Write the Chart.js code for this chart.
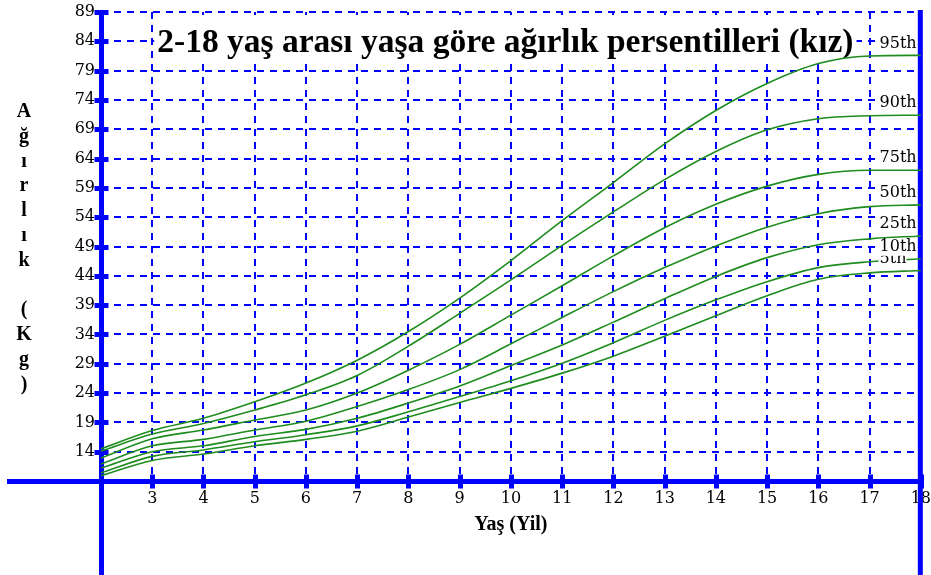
<!DOCTYPE html>
<html>
<head>
<meta charset="utf-8">
<title>Ağırlık persentilleri</title>
<script src="https://cdn.jsdelivr.net/npm/chart.js@4.4.0/dist/chart.umd.min.js"></script>
<style>
    html, body { margin: 0; padding: 0; background: #fff; }
</style>
</head>
<body>
<canvas id="grafik" width="931" height="575"></canvas>
<script>
// Yaş (yıl)
const yaslar = [2, 3, 4, 5, 6, 7, 8, 9, 10, 11, 12, 13, 14, 15, 16, 17, 18];

// Persentil değerleri (kg)
const p95 = [14.5, 17.6, 19.7, 22.5, 25.7, 29.6, 34.5, 40.2, 46.6, 53.4, 59.9, 66.5, 72.2, 76.8, 80.2, 81.5, 81.6];
const p90 = [14.1, 17.0, 18.8, 21.1, 23.7, 27.0, 32.0, 37.6, 43.3, 49.2, 54.9, 60.4, 65.2, 68.9, 70.8, 71.3, 71.4];
const p75 = [12.9, 16.2, 17.7, 19.4, 21.1, 24.0, 27.9, 32.3, 37.3, 42.3, 47.4, 52.2, 56.2, 59.3, 61.3, 62.0, 62.0];
const p50 = [11.9, 15.0, 16.1, 17.7, 19.2, 21.7, 24.6, 28.0, 32.4, 36.9, 41.3, 45.4, 49.1, 52.3, 54.6, 55.8, 56.1];
const p25 = [11.2, 14.0, 15.0, 16.6, 17.8, 19.7, 22.3, 25.2, 28.7, 32.2, 36.1, 40.1, 43.9, 47.1, 49.3, 50.3, 50.8];
const p10 = [10.4, 13.2, 14.3, 15.7, 16.9, 18.4, 20.8, 23.4, 26.1, 29.1, 32.6, 36.4, 39.9, 43.0, 45.4, 46.4, 46.9];
const p5  = [9.9, 12.5, 13.6, 15.0, 16.1, 17.5, 19.9, 22.4, 24.8, 27.4, 30.3, 33.7, 37.2, 40.6, 43.4, 44.5, 44.9];

const seriler = [p5, p10, p25, p50, p75, p90, p95];
const etiketler = ['5th', '10th', '25th', '50th', '75th', '90th', '95th'];

// Eksen aralıkları
const yMin = 9, yMax = 89, yAdim = 5;
const xMin = 2, xMax = 18;

const baslik = '2-18 yaş arası yaşa göre ağırlık persentilleri (kız)';
const yBaslik = 'Ağırlık (Kg)';
const xBaslik = 'Yaş (Yil)';

const MAVI = '#0000ff';
const YESIL = '#1e8c1e';

// Eksenler, başlık, etiketler
const ekPlugin = {
    id: 'ekPlugin',
    beforeDatasetsDraw(chart) {
        const { ctx, chartArea, scales: { x, y } } = chart;
        const x0 = x.getPixelForValue(xMin) + 0.5;
        const x1 = x.getPixelForValue(xMax) - 0.5;
        const y0 = y.getPixelForValue(yMin) + 0.5;
        ctx.save();

        // başlık (beyaz kutu üstünde)
        ctx.font = 'bold 33.5px "Liberation Serif", "Times New Roman", serif';
        const bx = x.getPixelForValue(3) + 5;
        const w = ctx.measureText(baslik).width;
        ctx.fillStyle = '#fff';
        ctx.fillRect(bx - 3, chartArea.top + 3, w + 6, 44);
        ctx.fillStyle = '#000';
        ctx.textAlign = 'left';
        ctx.textBaseline = 'alphabetic';
        ctx.fillText(baslik, bx, chartArea.top + 40);

        // kalın eksen çizgileri
        ctx.strokeStyle = MAVI;
        ctx.lineWidth = 5;
        ctx.beginPath();
        ctx.moveTo(7, y0); ctx.lineTo(x1 + 2, y0);
        ctx.moveTo(x0, chartArea.top - 2); ctx.lineTo(x0, chart.height);
        ctx.moveTo(x1, chartArea.top - 2); ctx.lineTo(x1, chart.height);
        ctx.stroke();

        // tik işaretleri
        ctx.fillStyle = MAVI;
        y.ticks.forEach(t => {
            const py = Math.round(y.getPixelForValue(t.value));
            ctx.fillRect(x0 - 7, py - 2, 14, 5);
        });
        x.ticks.forEach(t => {
            const px = Math.round(x.getPixelForValue(t.value));
            ctx.fillRect(px - 2, y0 - 7, 5, 14);
        });
        ctx.restore();
    },
    afterDatasetsDraw(chart) {
        const { ctx, scales: { x, y } } = chart;
        ctx.save();

        // persentil etiketleri
        ctx.font = '16px "DejaVu Serif", serif';
        ctx.textAlign = 'left';
        ctx.textBaseline = 'middle';
        const lx = x.getPixelForValue(17) + 10;
        seriler.forEach((s, i) => {
            const ly = y.getPixelForValue(s[s.length - 1]) - 12;
            const w = ctx.measureText(etiketler[i]).width;
            ctx.fillStyle = '#fff';
            ctx.fillRect(lx - 1, ly - 8, w + 1, 17);
            ctx.fillStyle = '#000';
            ctx.fillText(etiketler[i], lx, ly);
        });

        // dikey y ekseni başlığı
        ctx.font = 'bold 20px "Liberation Serif", "Times New Roman", serif';
        ctx.textAlign = 'center';
        ctx.textBaseline = 'alphabetic';
        [...yBaslik].forEach((c, i) => {
            ctx.fillText(c, 24, 117 + i * 24.8);
        });
        ctx.restore();
    }
};

Chart.defaults.font.family = '"DejaVu Serif", serif';
Chart.defaults.font.size = 16;
Chart.defaults.color = '#000';

const ctx = document.getElementById('grafik').getContext('2d');
new Chart(ctx, {
    type: 'line',
    data: {
        datasets: seriler.map((s, i) => ({
            label: etiketler[i],
            data: yaslar.map((yas, j) => ({ x: yas, y: s[j] })),
            borderColor: YESIL,
            borderWidth: 1.6,
            pointRadius: 0,
            fill: false,
            cubicInterpolationMode: 'monotone',
        })),
    },
    options: {
        responsive: false,
        animation: false,
        layout: { padding: { top: 12, right: 10, left: 0, bottom: 0 } },
        plugins: {
            legend: { display: false },
            tooltip: { enabled: false },
        },
        scales: {
            x: {
                type: 'linear',
                min: xMin,
                max: xMax,
                afterFit: (scale) => { scale.height = 94; },
                ticks: {
                    stepSize: 1,
                    padding: 0,
                    maxRotation: 0,
                    autoSkip: false,
                    callback: (v) => (v === xMin ? '' : v),
                },
                grid: { color: MAVI, lineWidth: 2, drawTicks: true, tickLength: 8, tickColor: 'rgba(0,0,0,0)' },
                border: { display: false, dash: [7, 6] },
                title: {
                    display: true,
                    text: xBaslik,
                    font: { family: '"Liberation Serif", "Times New Roman", serif', size: 20, weight: 'bold' },
                    padding: { top: 0, bottom: 38 },
                },
            },
            y: {
                type: 'linear',
                min: yMin,
                max: yMax,
                afterFit: (scale) => { scale.width = 101; },
                ticks: {
                    stepSize: yAdim,
                    padding: 0,
                    autoSkip: false,
                    callback: (v) => (v === yMin ? '' : v),
                },
                grid: { color: MAVI, lineWidth: 2, drawTicks: true, tickLength: 6, tickColor: 'rgba(0,0,0,0)' },
                border: { display: false, dash: [7, 6] },
            },
        },
    },
    plugins: [ekPlugin],
});
</script>
</body>
</html>
